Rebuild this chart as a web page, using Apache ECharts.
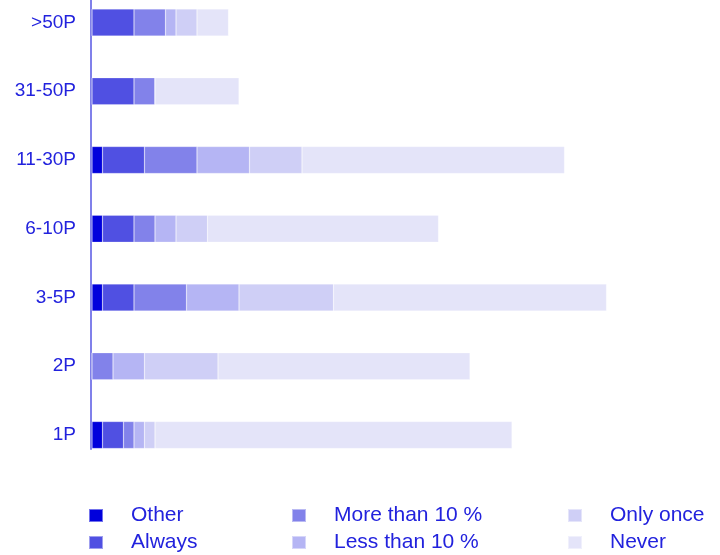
<!DOCTYPE html>
<html>
<head>
    <meta charset="utf-8" />
    <title></title>
    <script type="text/javascript" src="https://cdn.jsdelivr.net/npm/echarts@6/dist/echarts.min.js"></script>
    <style>
        html, body { margin: 0; padding: 0; background: #fff; }
        #main { width: 720px; height: 555px; }
    </style>
</head>
<body>
    <div id="main"></div>
    <script type="text/javascript">
        // categories, top to bottom
        var groups = ['>50P', '31-50P', '11-30P', '6-10P', '3-5P', '2P', '1P'];
        var seriesNames = ['Other', 'Always', 'More than 10 %', 'Less than 10 %', 'Only once', 'Never'];
        var other = [0, 0, 1, 1, 1, 0, 1];
        var always = [4, 4, 4, 3, 3, 0, 2];
        var moreThan10 = [3, 2, 5, 2, 5, 2, 1];
        var lessThan10 = [1, 0, 5, 2, 5, 3, 1];
        var onlyOnce = [2, 0, 5, 3, 9, 7, 1];
        var never = [3, 8, 25, 22, 26, 24, 34];

        var values = [other, always, moreThan10, lessThan10, onlyOnce, never];
        var colors = ['#0000dc', '#5050e2', '#8282ea', '#b5b5f4', '#cfcff6', '#e4e4f9'];
        var textColor = '#2222dd';
        var font = '"Liberation Sans", Arial, sans-serif';

        var series = [];
        for (var i = 0; i < seriesNames.length; i++) {
            series.push({
                name: seriesNames[i],
                type: 'bar',
                stack: 'total',
                barWidth: 27,
                xAxisIndex: 0,
                yAxisIndex: 0,
                itemStyle: {
                    color: colors[i],
                    borderColor: 'rgba(255,255,255,0.45)',
                    borderWidth: 0.5
                },
                emphasis: { disabled: true },
                data: values[i]
            });
        }

        function legendCol(names, left) {
            return {
                data: names,
                orient: 'vertical',
                left: left,
                top: 505,
                height: 60,
                padding: 0,
                icon: 'rect',
                itemWidth: 14,
                itemHeight: 13,
                itemGap: 6,
                selectedMode: false,
                textStyle: {
                    color: textColor,
                    fontSize: 21,
                    fontFamily: font,
                    lineHeight: 20,
                    padding: [0, 0, 0, 23]
                }
            };
        }

        var myChart = echarts.init(document.getElementById('main'), null, { renderer: 'canvas' });
        var option = {
            animation: false,
            color: colors,
            grid: [
                { left: 92, top: -11.875, width: 619.5, height: 481.25, outerBoundsMode: 'none' },
                { left: 91, top: 0, width: 10, height: 449, outerBoundsMode: 'none' }
            ],
            legend: [
                legendCol(['Other', 'Always'], 88),
                legendCol(['More than 10 %', 'Less than 10 %'], 291),
                legendCol(['Only once', 'Never'], 567)
            ],
            xAxis: [
                { type: 'value', gridIndex: 0, min: 0, max: 59, show: false },
                { type: 'value', gridIndex: 1, show: false }
            ],
            yAxis: [{
                type: 'category',
                gridIndex: 0,
                inverse: true,
                data: groups,
                axisLine: { show: false },
                axisTick: { show: false },
                axisLabel: {
                    color: textColor,
                    fontSize: 19,
                    fontFamily: font,
                    margin: 16
                }
            }, {
                type: 'value',
                gridIndex: 1,
                position: 'left',
                axisLine: { show: true, lineStyle: { color: '#8080ea', width: 2 } },
                axisTick: { show: false },
                axisLabel: { show: false },
                splitLine: { show: false }
            }],
            series: series
        };
        option && myChart.setOption(option);
    </script>
</body>
</html>
